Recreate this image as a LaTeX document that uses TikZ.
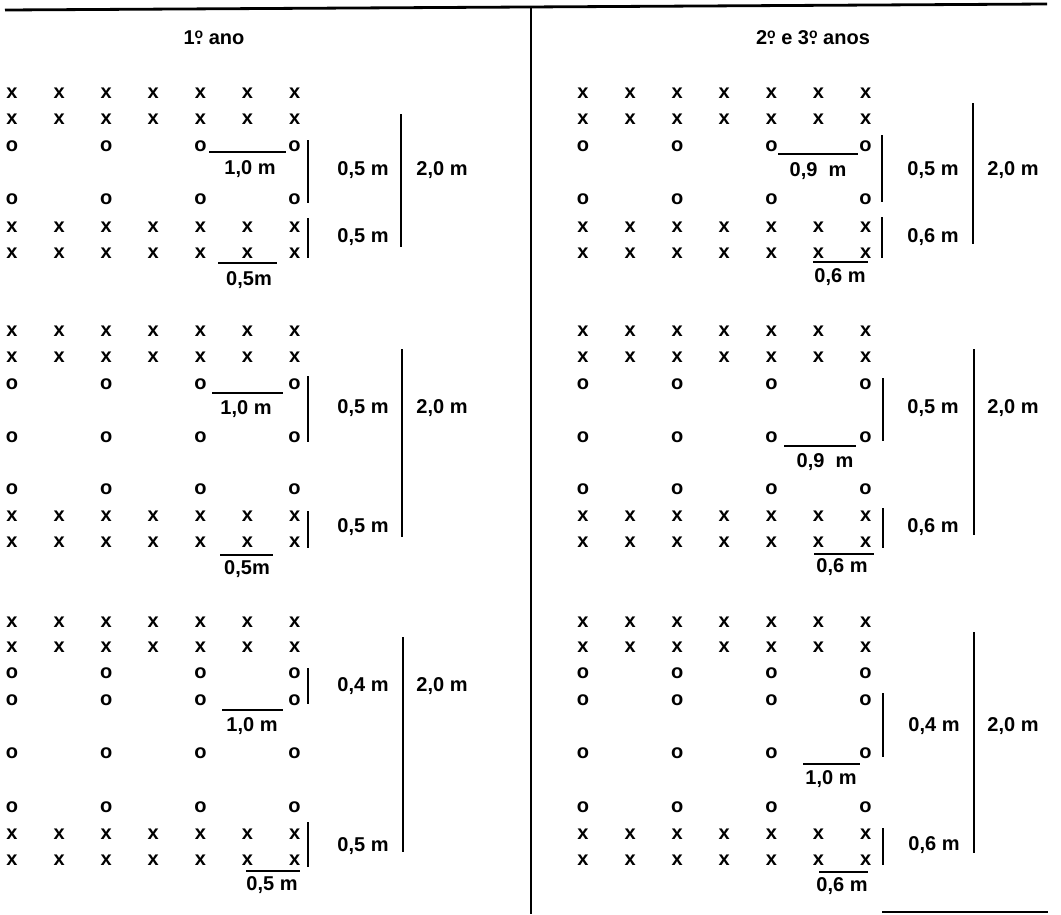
\documentclass[tikz,border=0pt]{standalone}
\usepackage{fontspec}
\setmainfont{Liberation Sans}
\newcommand{\ordo}{\ooalign{\hfil\raisebox{0.3em}{\fontsize{14}{14}\selectfont o}\hfil\cr\hfil.\hfil\cr}}

\begin{document}
\begin{tikzpicture}[x=1pt,y=-1pt,
  txt/.style={inner sep=0pt,font=\fontsize{20}{24}\selectfont\bfseries},
  bar/.style={line width=2.8pt},
  rule/.style={line width=2.8pt}]
\useasboundingbox (0,0) rectangle (1061,914);
% --- frame ---
\draw[rule] (5,10) -- (1047,4);
\draw[rule] (531,7) -- (531,914);
\draw[line width=1.4pt] (882,912) -- (1048,912);
\node[txt] (hdl) at (214,38) {1\ordo\ ano};
\node[txt] (hdr) at (813,38) {2\ordo\ e 3\ordo\ anos};

% --- plant rows, both panels ---
\foreach \px/\pn in {0/l,571/r}{
  \foreach \y in {93,119,227,253,331,357,516,542,622,647,834,860}
    \foreach \c in {0,...,6}
      \node[txt] (\pn x\y-\c) at (12+\px+47.1*\c,\y) {x};
  \foreach \y in {146,199,384,437,489,673,700,753,807}
    \foreach \c in {0,2,4,6}
      \node[txt] (\pn o\y-\c) at (12+\px+47.1*\c,\y) {o};
}

% --- 1o ano, top ---
\draw[bar] (209,152) -- (286,152);
\node[txt] (lt1) at (250,169) {1,0 m};
\draw[bar] (308,140) -- (308,203);
\node[txt] (lt2) at (363,170) {0,5 m};
\draw[bar] (308,218) -- (308,258);
\node[txt] (lt3) at (363,237) {0,5 m};
\draw[bar] (401,114) -- (401,247);
\node[txt] (lt4) at (442,170) {2,0 m};
\draw[bar] (218,263) -- (277,263);
\node[txt] (lt5) at (249,280) {0,5m};

% --- 1o ano, middle ---
\draw[bar] (212,393) -- (283,393);
\node[txt] (lm1) at (246,409) {1,0 m};
\draw[bar] (308,376) -- (308,442);
\node[txt] (lm2) at (363,408) {0,5 m};
\draw[bar] (308,511) -- (308,548);
\node[txt] (lm3) at (363,527) {0,5 m};
\draw[bar] (402,349) -- (402,537);
\node[txt] (lm4) at (442,408) {2,0 m};
\draw[bar] (220,555) -- (273,555);
\node[txt] (lm5) at (247,569) {0,5m};

% --- 1o ano, bottom ---
\draw[bar] (308,668) -- (308,704);
\node[txt] (lb1) at (363,686) {0,4 m};
\draw[bar] (222,710) -- (283,710);
\node[txt] (lb2) at (252,726) {1,0 m};
\draw[bar] (403,637) -- (403,852);
\node[txt] (lb3) at (442,686) {2,0 m};
\draw[bar] (308,822) -- (308,867);
\node[txt] (lb4) at (363,846) {0,5 m};
\draw[bar] (246,871) -- (300,871);
\node[txt] (lb5) at (272,885) {0,5 m};

% --- 2o e 3o anos, top ---
\draw[bar] (778,154) -- (858,154);
\node[txt] (rt1) at (818,171) {0,9\ \ m};
\draw[bar] (882,135) -- (882,202);
\node[txt] (rt2) at (933,170) {0,5 m};
\draw[bar] (882,217) -- (882,258);
\node[txt] (rt3) at (933,237) {0,6 m};
\draw[bar] (973,103) -- (973,244);
\node[txt] (rt4) at (1013,170) {2,0 m};
\draw[bar] (813,262) -- (868,262);
\node[txt] (rt5) at (840,277) {0,6 m};

% --- 2o e 3o anos, middle ---
\draw[bar] (883,378) -- (883,441);
\node[txt] (rm1) at (933,408) {0,5 m};
\draw[bar] (784,446) -- (856,446);
\node[txt] (rm2) at (825,462) {0,9\ \ m};
\draw[bar] (883,508) -- (883,548);
\node[txt] (rm3) at (933,527) {0,6 m};
\draw[bar] (974,349) -- (974,535);
\node[txt] (rm4) at (1013,408) {2,0 m};
\draw[bar] (814,554) -- (874,554);
\node[txt] (rm5) at (842,567) {0,6 m};

% --- 2o e 3o anos, bottom ---
\draw[bar] (883,693) -- (883,757);
\node[txt] (rb1) at (934,726) {0,4 m};
\draw[bar] (803,764) -- (860,764);
\node[txt] (rb2) at (831,779) {1,0 m};
\draw[bar] (974,632) -- (974,853);
\node[txt] (rb3) at (1013,726) {2,0 m};
\draw[bar] (883,828) -- (883,865);
\node[txt] (rb4) at (934,845) {0,6 m};
\draw[bar] (819,872) -- (868,872);
\node[txt] (rb5) at (842,886) {0,6 m};
\end{tikzpicture}
\end{document}
